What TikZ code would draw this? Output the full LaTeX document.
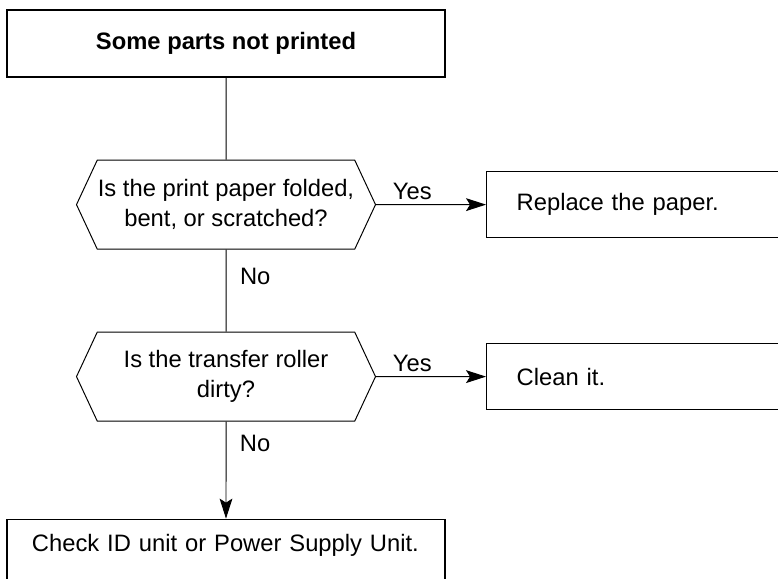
\documentclass[tikz,border=0pt]{standalone}
\usepackage{fontspec}
\setmainfont{Liberation Sans}
\usetikzlibrary{positioning,arrows.meta,shapes.symbols}

\begin{document}
\begin{tikzpicture}[>={Stealth[length=0.5cm,width=0.32cm,inset=0.1cm]},
        line width=0.7pt,node distance=2.05cm,
        font=\fontsize{16.9pt}{21.3pt}\selectfont,
        box/.style={draw,rectangle,line width=0.9pt},
        query/.style={draw,signal,signal to=west and east,signal pointer angle=130,
            minimum width=7.475cm,minimum height=2.225cm,inner sep=0pt,align=center},
        fix/.style={box,minimum height=1.64cm,text width=6.375cm,inner xsep=0.75cm,align=left}]
        \useasboundingbox (0,0) rectangle (19.45,-14.45);
        \node[box,minimum width=10.95cm,minimum height=1.675cm] (start) at (5.65,-1.0875) {\bfseries Some parts not printed};
        \node[query,below=of start] (paper) {Is the print paper folded,\\bent, or scratched?};
        \node[query,below=of paper] (roller) {Is the transfer roller\\dirty?};
        \node[fix,right=2.75cm of paper] (replace) {Replace the paper.};
        \node[fix,right=2.75cm of roller] (clean) {Clean it.};
        \node[box,below=2.425cm of roller,text width=9.7cm,inner xsep=0.625cm,align=left,
            text height=0.43cm,inner ysep=0.38cm,text depth=2cm] (check) {Check ID unit or Power Supply Unit.};
        \draw (start) -- (paper);
        \draw[->] (paper) -- node[above,pos=0.33] {Yes} (replace);
        \draw (paper) -- node[right,pos=0.33,xshift=0.22cm] {No} (roller);
        \draw[->] (roller) -- node[above,pos=0.33] {Yes} (clean);
        \draw[->] (roller) -- node[right,pos=0.22,xshift=0.22cm] {No} (check);
    \end{tikzpicture}
\end{document}
